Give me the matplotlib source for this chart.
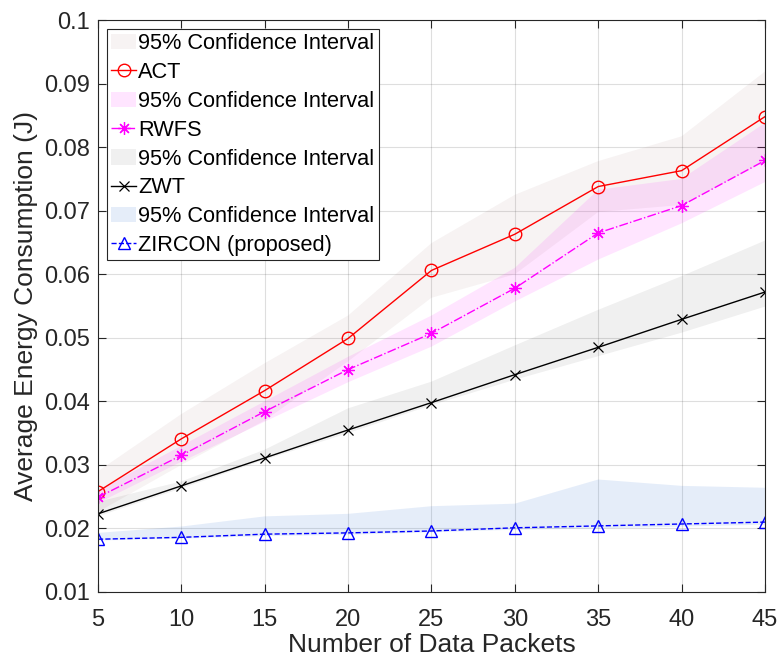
import numpy as np
import matplotlib.pyplot as plt

plt.rcParams["font.family"] = ["Liberation Sans", "DejaVu Sans"]

OUTPUT_FILE = "out.png"

packets = [5, 10, 15, 20, 25, 30, 35, 40, 45]

# mean energy per scheme
act = [0.0258, 0.0341, 0.0417, 0.0499, 0.0606, 0.0663, 0.0738, 0.0763, 0.0848]
rwfs = [0.0249, 0.0315, 0.0384, 0.0450, 0.0507, 0.0578, 0.0665, 0.0708, 0.0779]
zwt = [0.0223, 0.0267, 0.0311, 0.0355, 0.0398, 0.0442, 0.0485, 0.0529, 0.0572]
zircon = [0.0183, 0.0186, 0.0191, 0.0193, 0.0196, 0.0201, 0.0204, 0.0207, 0.0210]

# 95% confidence bounds
act_lo = [0.0226, 0.0300, 0.0370, 0.0463, 0.0563, 0.0600, 0.0698, 0.0709, 0.0777]
act_hi = [0.0290, 0.0380, 0.0460, 0.0535, 0.0649, 0.0725, 0.0778, 0.0817, 0.0919]
rwfs_lo = [0.0240, 0.0305, 0.0368, 0.0430, 0.0486, 0.0557, 0.0623, 0.0680, 0.0745]
rwfs_hi = [0.0260, 0.0330, 0.0400, 0.0470, 0.0535, 0.0610, 0.0733, 0.0750, 0.0838]
zwt_lo = [0.0219, 0.0263, 0.0308, 0.0350, 0.0394, 0.0434, 0.0471, 0.0508, 0.0549]
zwt_hi = [0.0242, 0.0274, 0.0324, 0.0389, 0.0431, 0.0488, 0.0544, 0.0597, 0.0653]
zircon_lo = [0.0181, 0.0184, 0.0188, 0.0190, 0.0194, 0.0198, 0.0200, 0.0203, 0.0206]
zircon_hi = [0.0193, 0.0203, 0.0219, 0.0223, 0.0235, 0.0239, 0.0277, 0.0267, 0.0264]

# asterisk made of a plus and a cross
ASTERISK = (8, 2, 0)

SERIES = [
    ("ACT", act, act_lo, act_hi,
     dict(color="red", linestyle="-", marker="o", markersize=9,
          markerfacecolor="none"),
     ((155 / 255, 105 / 255, 105 / 255), 0.08)),
    ("RWFS", rwfs, rwfs_lo, rwfs_hi,
     dict(color="magenta", linestyle="-.", marker=ASTERISK, markersize=9,
          markeredgewidth=0.9),
     ((1.0, 0.0, 1.0), 0.10)),
    ("ZWT", zwt, zwt_lo, zwt_hi,
     dict(color="black", linestyle="-", marker="x", markersize=7,
          markeredgewidth=0.9),
     ((0.0, 0.0, 0.0), 0.06)),
    ("ZIRCON (proposed)", zircon, zircon_lo, zircon_hi,
     dict(color="blue", linestyle="--", marker="^", markersize=9,
          markerfacecolor="none"),
     ((5 / 255, 85 / 255, 205 / 255), 0.10)),
]

AX_COLOR = "#262626"


def main():
    fig = plt.figure(figsize=(7.79, 6.61), dpi=100)
    ax = fig.add_axes([0.1258, 0.1044, 0.9820 - 0.1258, 0.9697 - 0.1044])

    for name, mean, lo, hi, style, (fc, alpha) in SERIES:
        ax.fill_between(packets, lo, hi, facecolor=fc, alpha=alpha,
                        edgecolor="none", label="95% Confidence Interval")
        ax.plot(packets, mean, linewidth=1.0, label=name, **style)

    ax.set_xlim(5, 45)
    ax.set_ylim(0.01, 0.1)
    ax.set_xticks(np.arange(5, 46, 5))
    ax.set_yticks(np.arange(0.01, 0.1001, 0.01))
    ax.set_yticklabels(["0.01", "0.02", "0.03", "0.04", "0.05",
                        "0.06", "0.07", "0.08", "0.09", "0.1"])

    ax.grid(True, color=AX_COLOR, alpha=0.15, linewidth=0.8)
    ax.set_axisbelow(True)
    ax.tick_params(direction="in", top=True, right=True, length=6,
                   width=0.8, colors=AX_COLOR, labelsize=17)
    ax.tick_params(axis="x", pad=12)
    ax.tick_params(axis="y", pad=6)
    for spine in ax.spines.values():
        spine.set_color(AX_COLOR)
        spine.set_linewidth(0.8)

    ax.set_xlabel("Number of Data Packets", fontsize=19, color=AX_COLOR,
                  labelpad=2)
    ax.set_ylabel("Average Energy Consumption (J)", fontsize=19,
                  color=AX_COLOR, labelpad=4)

    leg = ax.legend(loc="upper left", fontsize=15.7, fancybox=False,
                    framealpha=1, edgecolor=AX_COLOR, handlelength=1.15,
                    handletextpad=0.1, labelspacing=0.36, borderpad=0.2,
                    borderaxespad=0.4)
    leg.get_frame().set_linewidth(0.8)

    fig.savefig(OUTPUT_FILE, dpi=100)


if __name__ == "__main__":
    main()
